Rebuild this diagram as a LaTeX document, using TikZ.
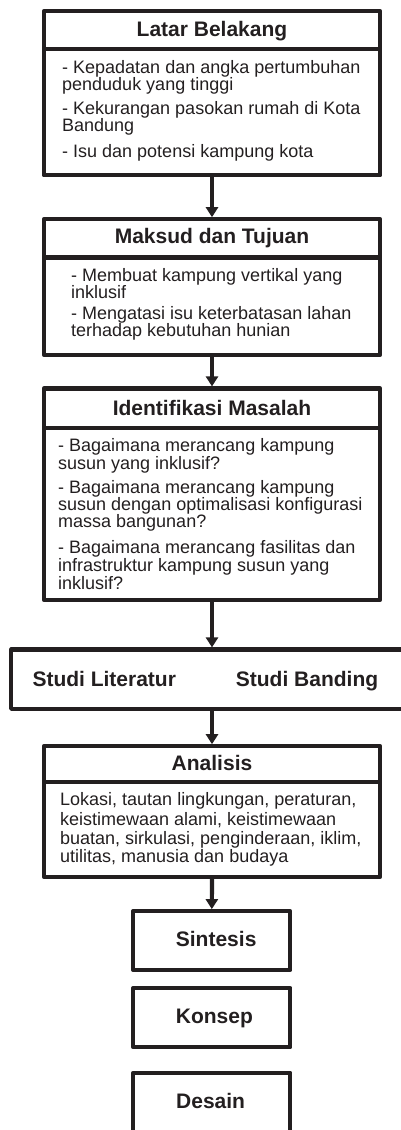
\documentclass[tikz,border=0pt]{standalone}
\usepackage{fontspec}
\setmainfont{Liberation Sans}
\usetikzlibrary{arrows.meta}
\definecolor{ink}{HTML}{231F20}
\begin{document}
\begin{tikzpicture}[x=1pt,y=-1pt,
  box/.style={draw=ink, line width=4.2pt, rectangle, inner sep=0pt, line join=round},
  body/.style={font=\fontsize{18}{18}\selectfont, text=ink, inner sep=0pt, anchor=base west},
  ttl/.style={font=\fontsize{21}{21}\selectfont\bfseries, text=ink, inner sep=0pt, anchor=base},
  ttlw/.style={font=\fontsize{21}{21}\selectfont\bfseries, text=ink, inner sep=0pt, anchor=base west},
  arr/.style={draw=ink, line width=4.2pt, -{Triangle[width=12pt,length=10pt]}},
  divider/.style={draw=ink, line width=4.2pt}]
\useasboundingbox (0,0) rectangle (401,1130);

% boxes
\node[box, minimum width=336.6pt, minimum height=164pt] (b1) at (212,93.3) {};
\node[box, minimum width=336.6pt, minimum height=135.4pt] (b2) at (212,287) {};
\node[box, minimum width=336.6pt, minimum height=211.2pt] (b3) at (212,494.1) {};
\node[box, minimum width=408.8pt, minimum height=59.3pt] (studi) at (215.6,679.15) {};
\node[box, minimum width=336.6pt, minimum height=130.5pt] (b4) at (212,811.55) {};
\node[box, minimum width=157pt, minimum height=58.8pt] (sint) at (211.8,940.6) {};
\node[box, minimum width=157pt, minimum height=59.2pt] (kon) at (211.8,1017.6) {};
\node[box, minimum width=157pt, minimum height=67.2pt] (des) at (211.8,1106.4) {};

% dividers
\draw[divider] (43.7,49.3) -- (380.3,49.3);
\draw[divider] (43.7,257.5) -- (380.3,257.5);
\draw[divider] (43.7,428.3) -- (380.3,428.3);
\draw[divider] (43.7,782) -- (380.3,782);

% box 1
\node[ttl] (t1) at (212,36) {Latar Belakang};
\node[body] (l1a) at (62,73) {- Kepadatan dan angka pertumbuhan};
\node[body] (l1b) at (62,90) {penduduk yang tinggi};
\node[body] (l1c) at (62,114) {- Kekurangan pasokan rumah di Kota};
\node[body] (l1d) at (62,131) {Bandung};
\node[body] (l1e) at (62,157) {- Isu dan potensi kampung kota};

% box 2
\node[ttl] (t2) at (212,243.3) {Maksud dan Tujuan};
\node[body] (l2a) at (71,281) {- Membuat kampung vertikal yang};
\node[body] (l2b) at (71,298) {inklusif};
\node[body] (l2c) at (71,319) {- Mengatasi isu keterbatasan lahan};
\node[body] (l2d) at (71,336) {terhadap kebutuhan hunian};

% box 3
\node[ttl] (t3) at (212,415) {Identifikasi Masalah};
\node[body] (l3a) at (58,451.7) {- Bagaimana merancang kampung};
\node[body] (l3b) at (58,469) {susun yang inklusif?};
\node[body] (l3c) at (58,493.3) {- Bagaimana merancang kampung};
\node[body] (l3d) at (58,510.7) {susun dengan optimalisasi konfigurasi};
\node[body] (l3e) at (58,527.7) {massa bangunan?};
\node[body] (l3f) at (58,553.3) {- Bagaimana merancang fasilitas dan};
\node[body] (l3g) at (58,571) {infrastruktur kampung susun yang};
\node[body] (l3h) at (58,589.3) {inklusif?};

% studi
\node[ttlw] (s1) at (32.3,686) {Studi Literatur};
\node[ttlw] (s2) at (235.7,686) {Studi Banding};

% analisis
\node[ttl] (t4) at (212,770) {Analisis};
\node[body] (l4a) at (60,805.7) {Lokasi, tautan lingkungan, peraturan,};
\node[body] (l4b) at (60,825) {keistimewaan alami, keistimewaan};
\node[body] (l4c) at (60,844) {buatan, sirkulasi, penginderaan, iklim,};
\node[body] (l4d) at (60,862.3) {utilitas, manusia dan budaya};

% final boxes text
\node[ttlw] (ts) at (175.7,946.7) {Sintesis};
\node[ttlw] (tk) at (175.7,1023.3) {Konsep};
\node[ttlw] (td) at (176,1108.3) {Desain};

% arrows
\draw[arr] (b1.south) -- (b2.north);
\draw[arr] (b2.south) -- (b3.north);
\draw[arr] (b3.south) -- (b3.south |- studi.north);
\draw[arr] (b4.north |- studi.south) -- (b4.north);
\draw[arr] (b4.south) -- (sint.north);
\end{tikzpicture}
\end{document}
